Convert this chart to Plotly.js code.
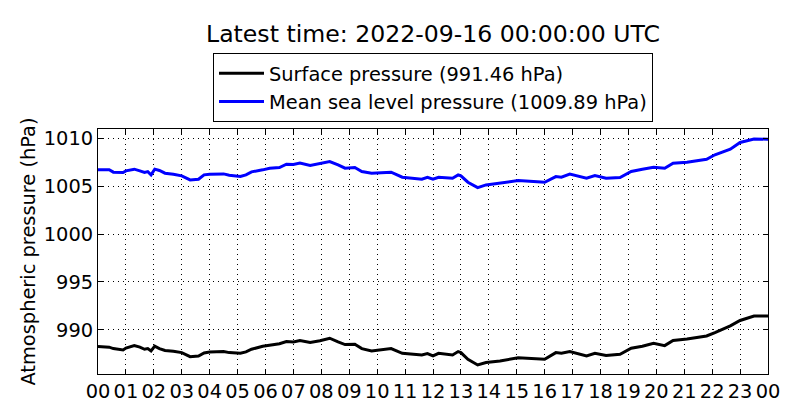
<!DOCTYPE html>
<html>
<head>
<meta charset="utf-8">
<script src="https://cdn.plot.ly/plotly-3.0.1.min.js"></script>
<style>
  html, body { margin: 0; padding: 0; background: #fff; }
  #chart { width: 800px; height: 420px; }
</style>
</head>
<body>
<div id="chart"></div>
<script>
// times of day (UTC); last point is midnight of the next day
const times = [
  "00:00","00:24","00:33","00:54","01:00","01:18","01:30","01:40","01:47","01:54",
  "02:02","02:12","02:24","02:42","03:00","03:18","03:36","03:48","04:00","04:30",
  "04:42","05:06","05:18","05:30","05:54","06:09","06:30","06:45","07:00","07:14",
  "07:36","07:57","08:18","08:36","08:51","09:12","09:27","09:48","10:12","10:30",
  "10:54","11:18","11:36","11:48","12:00","12:12","12:42","12:54","13:00","13:15",
  "13:36","13:54","14:24","15:03","15:36","16:00","16:24","16:36","16:54","17:30",
  "17:48","18:12","18:42","19:06","19:30","19:54","20:18","20:36","21:06","21:48",
  "22:06","22:39","23:00","23:30","24:00"
];

// mean sea level pressure (hPa)
const mslp = [
  1006.69,1006.70,1006.45,1006.41,1006.58,1006.76,1006.58,1006.41,1006.50,1006.17,
  1006.76,1006.62,1006.34,1006.24,1006.06,1005.64,1005.71,1006.17,1006.24,1006.27,
  1006.13,1006.00,1006.17,1006.48,1006.69,1006.86,1006.93,1007.28,1007.25,1007.39,
  1007.14,1007.39,1007.56,1007.21,1006.86,1006.93,1006.52,1006.34,1006.41,1006.45,
  1005.92,1005.82,1005.71,1005.92,1005.71,1005.92,1005.82,1006.17,1006.06,1005.40,
  1004.84,1005.12,1005.30,1005.57,1005.47,1005.40,1005.99,1005.92,1006.24,1005.82,
  1006.10,1005.82,1005.89,1006.52,1006.76,1006.97,1006.86,1007.39,1007.49,1007.80,
  1008.26,1008.85,1009.55,1009.90,1009.89
];

// surface pressure (hPa)
const sfcp = [
  988.26,988.20,988.05,987.91,988.10,988.36,988.20,987.98,988.05,987.80,
  988.30,988.05,987.85,987.78,987.63,987.21,987.28,987.60,987.70,987.74,
  987.63,987.56,987.70,987.98,988.30,988.40,988.55,988.78,988.74,988.89,
  988.68,988.86,989.13,988.74,988.47,988.50,988.05,987.81,987.95,988.05,
  987.56,987.45,987.39,987.53,987.28,987.56,987.39,987.74,987.63,986.93,
  986.34,986.60,986.76,987.10,986.98,986.93,987.63,987.56,987.74,987.28,
  987.56,987.32,987.45,988.08,988.30,988.61,988.36,988.89,989.05,989.37,
  989.72,990.42,990.98,991.45,991.46
];

const yTicks = [990, 995, 1000, 1005, 1010];
const latestTime = "2022-09-16 00:00:00 UTC";

const toStamp = t => t === "24:00" ? "2022-09-16 00:00" : "2022-09-15 " + t;
const x = times.map(toStamp);

const FONT = "DejaVu Sans, Liberation Sans, sans-serif";
const TXT = 19.4;

const axisBase = {
  showline: true,
  linecolor: "#000",
  linewidth: 1,
  mirror: "ticks",
  ticks: "inside",
  ticklen: 5,
  tickcolor: "#000",
  showgrid: true,
  gridcolor: "#000",
  griddash: "1px,4px",
  gridwidth: 1,
  zeroline: false,
  tickfont: { family: FONT, size: TXT, color: "#000" }
};

const traces = [
  {
    x, y: sfcp,
    type: "scatter", mode: "lines",
    name: `Surface pressure (${sfcp[sfcp.length - 1].toFixed(2)} hPa)`,
    line: { color: "#000", width: 3 }
  },
  {
    x, y: mslp,
    type: "scatter", mode: "lines",
    name: `Mean sea level pressure (${mslp[mslp.length - 1].toFixed(2)} hPa)`,
    line: { color: "#0000ff", width: 3 }
  }
];

const layout = {
  width: 800,
  height: 420,
  margin: { l: 98, r: 32, t: 129, b: 46 },
  paper_bgcolor: "#fff",
  plot_bgcolor: "#fff",
  font: { family: FONT, size: TXT, color: "#000" },
  title: {
    text: "Latest time: " + latestTime,
    font: { family: FONT, size: 23.6, color: "#000" },
    xref: "paper", x: 0.5, xanchor: "center",
    yref: "container", y: 1 - 34 / 420, yanchor: "middle"
  },
  showlegend: true,
  legend: {
    x: 0.5, xanchor: "center",
    y: 1.31, yanchor: "top",
    bgcolor: "#fff",
    bordercolor: "#000",
    borderwidth: 1,
    itemwidth: 45,
    tracegroupgap: 0,
    font: { family: FONT, size: TXT, color: "#000" }
  },
  xaxis: {
    ...axisBase,
    type: "date",
    range: ["2022-09-15 00:00", "2022-09-16 00:00"],
    dtick: 3600000,
    tick0: "2022-09-15 00:00",
    tickformat: "%H",
    automargin: false
  },
  yaxis: {
    ...axisBase,
    range: [985.4, 1010.95],
    tickvals: yTicks,
    ticktext: yTicks.map(String),
    automargin: false,
    title: {
      text: "Atmospheric pressure (hPa)",
      font: { family: FONT, size: TXT, color: "#000" },
      standoff: 2
    }
  }
};

Plotly.newPlot("chart", traces, layout, { staticPlot: true, displayModeBar: false });
</script>
</body>
</html>
